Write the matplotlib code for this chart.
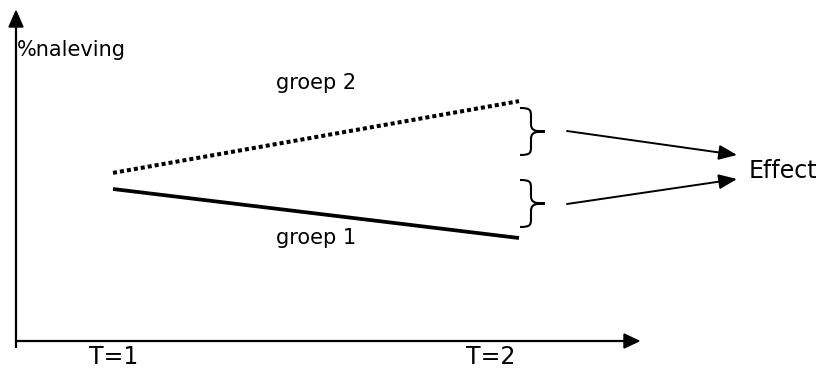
import numpy as np
import matplotlib.pyplot as plt
from matplotlib.path import Path
from matplotlib.patches import PathPatch
import matplotlib.transforms as mtransforms

# data: % naleving at T=1 and T=2 (arbitrary scale 0..100)
time_points = [1, 2]
time_labels = ['T=1', 'T=2']
groep1 = [46.2, 31.3]
groep2 = [51.1, 72.9]
series_labels = ['groep 1', 'groep 2']

W, H = 824, 369


def main():
    fig = plt.figure(figsize=(W / 100, H / 100), dpi=100)
    ax = fig.add_axes([0, 0, 1, 1])
    # x: T=1 at px 113, T=2 at px 519 ; y: 0 at py 341, 100 at py 12
    sx = 406.0
    sy = 3.29
    ax.set_xlim(1 - 113 / sx, 2 + (W - 519) / sx)
    ax.set_ylim(-(H - 341) / sy, 341 / sy)
    ax.axis('off')

    # pixel transform (origin top-left) for the decorations
    px = mtransforms.Affine2D().scale(1 / W, -1 / H).translate(0, 1) + fig.transFigure

    # axes with arrows
    ax.plot([16, 16], [348, 25], color='black', lw=1.6, transform=px, solid_capstyle='butt')
    ax.plot([16, 625], [341, 341], color='black', lw=1.6, transform=px, solid_capstyle='butt')
    ax.add_patch(plt.Polygon([[16, 11], [9, 27], [23, 27]], closed=True, color='black', transform=px))
    ax.add_patch(plt.Polygon([[639, 341], [624, 334], [624, 348]], closed=True, color='black', transform=px))

    # lines
    ax.plot(time_points, groep2, color='black', lw=2.9, linestyle=(0, (1.0, 0.75)),
            dash_capstyle='butt')
    ax.plot(time_points, groep1, color='black', lw=2.7, solid_capstyle='butt')

    fs = 15
    ax.text(17, 50, '%naleving', transform=px, fontsize=fs, ha='left', va='center')
    ax.text(316, 83, series_labels[1], transform=px, fontsize=fs, ha='center', va='center')
    ax.text(316, 238, series_labels[0], transform=px, fontsize=fs, ha='center', va='center')
    label_shift = [1, -28]
    for t, lab, dx in zip(time_points, time_labels, label_shift):
        xpx = 113 + (t - 1) * sx + dx
        ax.text(xpx, 357, lab, transform=px, fontsize=17, ha='center', va='center')
    ax.text(749, 171, 'Effect', transform=px, fontsize=17, ha='left', va='center')

    # curly braces
    def brace(x0, top, bot, tip):
        mid = (top + bot) / 2
        xm = x0 + 11
        verts = [(x0, top), (xm - 1, top), (xm, top + 2), (xm, top + 8),
                 (xm, mid - 8),
                 (xm, mid - 2), (xm + 2, mid), (tip, mid),
                 (xm + 2, mid), (xm, mid + 2), (xm, mid + 8),
                 (xm, bot - 8),
                 (xm, bot - 2), (xm - 1, bot), (x0, bot)]
        codes = [Path.MOVETO, Path.CURVE4, Path.CURVE4, Path.CURVE4,
                 Path.LINETO,
                 Path.CURVE4, Path.CURVE4, Path.CURVE4,
                 Path.CURVE4, Path.CURVE4, Path.CURVE4,
                 Path.LINETO,
                 Path.CURVE4, Path.CURVE4, Path.CURVE4]
        ax.add_patch(PathPatch(Path(verts, codes), fill=False, lw=1.5, color='black',
                               transform=px))

    brace(520, 108, 155, 545)
    brace(520, 180, 227, 545)

    # arrows to Effect
    for y0, y1 in [(131, 155), (204, 179)]:
        ax.annotate('', xy=(737, y1), xytext=(567, y0), xycoords=px, textcoords=px,
                    arrowprops=dict(arrowstyle='-|>,head_length=1.1,head_width=0.45',
                                    color='black', lw=1.4, shrinkA=0, shrinkB=0))

    fig.savefig('out.png', dpi=100)


if __name__ == '__main__':
    main()
